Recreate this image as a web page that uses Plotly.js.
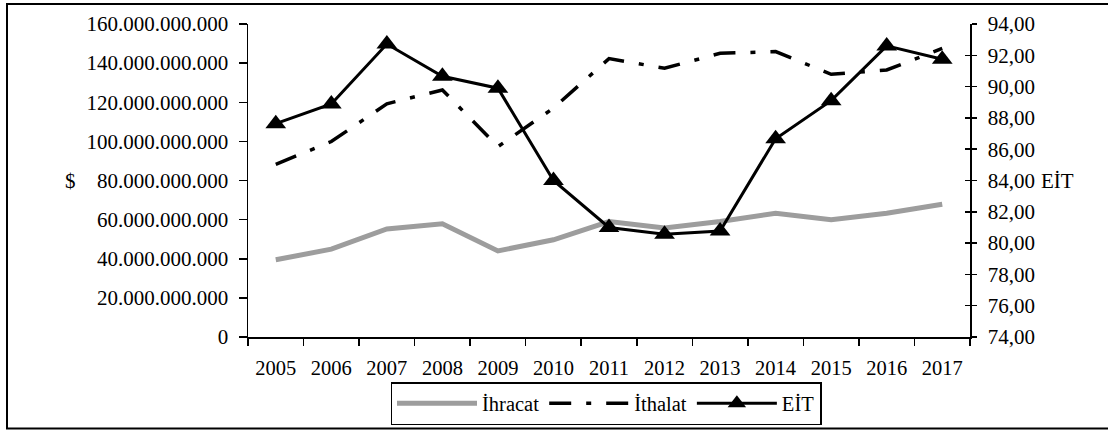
<!DOCTYPE html>
<html>
<head>
<meta charset="utf-8">
<script src="https://cdn.plot.ly/plotly-3.0.1.min.js"></script>
<style>html,body{margin:0;padding:0;background:#fff;}#chart{width:1108px;height:430px;}</style>
</head>
<body>
<div id="chart"></div>
<script>
const years = ['2005','2006','2007','2008','2009','2010','2011','2012','2013','2014','2015','2016','2017'];
const ihracat = [39500000000, 44900000000, 55200000000, 57900000000, 44000000000, 49700000000, 59000000000, 55700000000, 59000000000, 63300000000, 59900000000, 63300000000, 67900000000];
const ithalat = [88300000000, 99900000000, 119200000000, 126300000000, 97300000000, 117000000000, 142300000000, 137400000000, 145000000000, 145900000000, 134300000000, 136500000000, 147500000000];
const eit = [87.63, 88.89, 92.72, 90.66, 89.90, 84.00, 81.00, 80.56, 80.77, 86.67, 89.10, 92.60, 91.75];
const seriesNames = ['İhracat', 'İthalat', 'EİT'];
const leftTitle = '$';
const rightTitle = 'EİT';

const W = 1108, H = 430;
const M = {l: 248, r: 138, t: 24, b: 93};
const PW = W - M.l - M.r, PH = H - M.t - M.b;
const px = x => (x - M.l) / PW;
const py = y => (H - M.b - y) / PH;
const FONT = '"Liberation Serif", "Times New Roman", serif';

const traces = [
  {x: years, y: ihracat, name: seriesNames[0], type: 'scatter', mode: 'lines', yaxis: 'y',
   line: {color: '#9d9d9d', width: 5}},
  {x: years, y: ithalat, name: seriesNames[1], type: 'scatter', mode: 'lines', yaxis: 'y',
   line: {color: '#000', width: 3.5, dash: '22px,15px,5px,15px'}},
  {x: years, y: eit, name: seriesNames[2], type: 'scatter', mode: 'lines+markers', yaxis: 'y2',
   line: {color: '#000', width: 3}, marker: {symbol: 'triangle-up', size: 18, color: '#000'}}
];

const layout = {
  width: W, height: H,
  margin: M,
  paper_bgcolor: '#fff', plot_bgcolor: '#fff',
  font: {family: FONT, size: 20, color: '#000'},
  separators: ',.',
  showlegend: true,
  xaxis: {type: 'category', range: [-0.5, 12.5], tickson: 'boundaries', ticks: 'outside', ticklen: 7,
          tickwidth: 1.5, tickcolor: '#000', showline: true, linecolor: '#000', linewidth: 1.5,
          showgrid: false, zeroline: false, fixedrange: true, ticklabelstandoff: 12,
          tickfont: {family: FONT, size: 20.5}},
  yaxis: {range: [0, 160000000000], dtick: 20000000000, tickformat: ',.0f', ticks: 'outside', ticklen: 8,
          tickwidth: 1.5, tickcolor: '#000', showline: true, linecolor: '#000', linewidth: 1.5,
          showgrid: false, zeroline: false, ticklabelstandoff: 6, tickfont: {family: FONT, size: 21}},
  yaxis2: {range: [74, 94], dtick: 2, tickformat: '.2f', overlaying: 'y', side: 'right', anchor: 'x',
           ticks: 'outside', ticklen: 5, tickwidth: 1.5, tickcolor: '#000', showline: true,
           linecolor: '#000', linewidth: 1.5, showgrid: false, zeroline: false, ticklabelstandoff: 7,
           tickfont: {family: FONT, size: 21}},
  yaxis3: {range: [74, 94], dtick: 2, overlaying: 'y', side: 'right', anchor: 'x',
           ticks: 'inside', ticklen: 5, tickwidth: 1.5, tickcolor: '#000', showticklabels: false,
           showline: false, showgrid: false, zeroline: false},
  legend: {orientation: 'h', xref: 'container', yref: 'container', x: 606 / W, xanchor: 'center',
           y: 1 - 382 / H, yanchor: 'top',
           bordercolor: '#000', borderwidth: 1.5, bgcolor: '#fff', font: {family: FONT, size: 20.5},
           itemwidth: 80, tracegroupgap: 0, traceorder: 'normal'},
  annotations: [
    {text: leftTitle, xref: 'paper', yref: 'paper', x: px(70), y: py(181), xanchor: 'center', yanchor: 'middle',
     showarrow: false, font: {family: FONT, size: 21}},
    {text: rightTitle, xref: 'paper', yref: 'paper', x: px(1039), y: py(181), xanchor: 'left', yanchor: 'middle',
     showarrow: false, font: {family: FONT, size: 21}}
  ],
  shapes: [
    {type: 'rect', xref: 'paper', yref: 'paper', x0: px(7), x1: px(1115), y0: py(428.5), y1: py(4),
     line: {color: '#000', width: 2}, fillcolor: 'rgba(0,0,0,0)', layer: 'below'}
  ]
};

// invisible trace so that yaxis3 (inner half of the right-axis cross ticks) is drawn
traces.push({x: [years[0]], y: [74], yaxis: 'y3', mode: 'markers', marker: {opacity: 0}, showlegend: false, hoverinfo: 'skip'});

Plotly.newPlot('chart', traces, layout, {displayModeBar: false, staticPlot: true});
</script>
</body>
</html>
